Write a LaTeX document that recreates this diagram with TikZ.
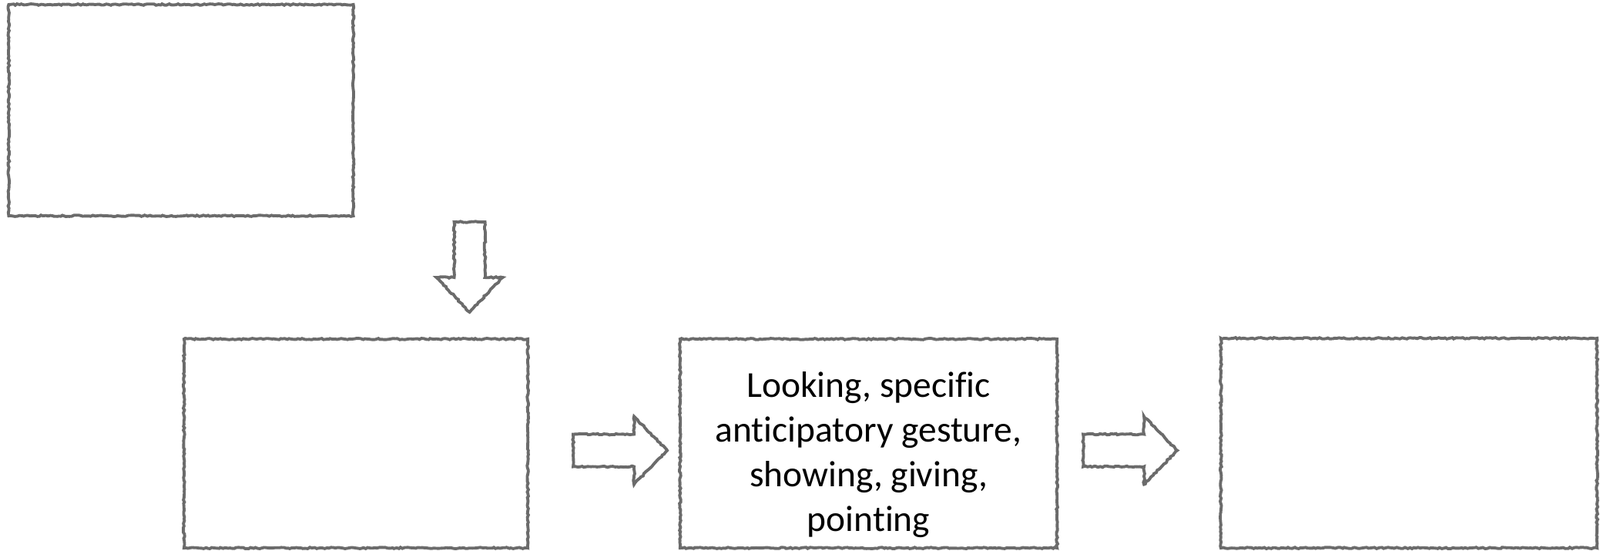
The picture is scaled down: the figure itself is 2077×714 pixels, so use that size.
\documentclass[tikz,border=0pt]{standalone}
\usepackage{fontspec}
\setmainfont[RawFeature={-liga;-clig;-calt;-dlig}]{Carlito}
\usetikzlibrary{calc,decorations.pathmorphing}
\definecolor{sketchgray}{HTML}{6B6B6B}
\tikzset{
  rough/.style={draw=sketchgray, line width=1.1pt,
    decorate, decoration={random steps, segment length=0.8pt, amplitude=0.25pt}},
  box/.style={rough, rectangle, inner sep=0pt},
  blockarrow/.style={rough, line join=miter},
  boxtext/.style={align=center, inner sep=0pt, font=\fontsize{13.5}{16.5}\selectfont}
}
\begin{document}
\begin{tikzpicture}[x=0.01cm, y=-0.01cm]
            \useasboundingbox (0,0) rectangle (2077,714);
            % boxes
            \node[box, minimum width=4.47cm, minimum height=2.74cm] (box1) at (235,143) {};
            \node[box, minimum width=4.46cm, minimum height=2.71cm] (box2) at (462,575.5) {};
            \node[box, minimum width=4.89cm, minimum height=2.71cm] (box3) at (1127.5,575.5) {};
            \node[box, minimum width=4.88cm, minimum height=2.72cm] (box4) at (1829,575) {};
            \node[boxtext] (box3txt) at ($(box3.center)+(0,15)$)
                {Looking, specific\\anticipatory gesture,\\showing, giving,\\pointing};
            % block arrows
            \coordinate (a0) at ($(box1.south east)+(149,6)$);
            \coordinate (a1) at ($(box2.east)+(57,9)$);
            \coordinate (a2) at ($(box3.east)+(32,9)$);
            \draw[blockarrow] (a0) -- ++(20,0) -- ++(0,72) -- ++(23,0) -- ++(-43,45)
                -- ++(-43,-45) -- ++(23,0) -- ++(0,-72) -- cycle;
            \foreach \a in {a1,a2} {
                \draw[blockarrow] (\a) -- ++(0,-21) -- ++(79,0) -- ++(0,-23) -- ++(43,44)
                    -- ++(-43,44) -- ++(0,-23) -- ++(-79,0) -- cycle;
            }
        \end{tikzpicture}
\end{document}
